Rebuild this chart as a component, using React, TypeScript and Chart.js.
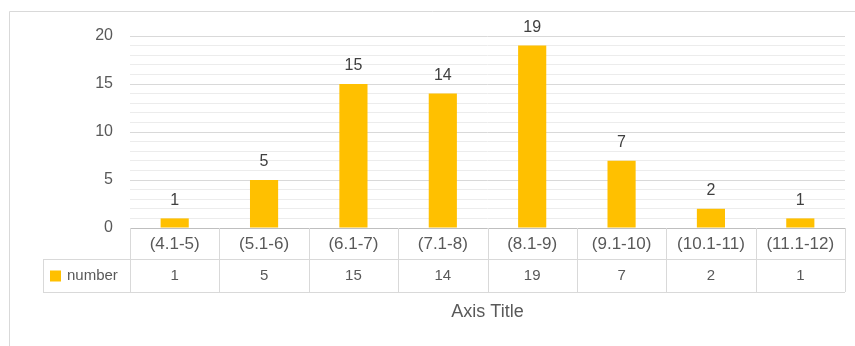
import React, { useEffect, useRef } from "react";
import { Chart, registerables } from "chart.js";

Chart.register(...registerables);

const categories = ["(4.1-5)", "(5.1-6)", "(6.1-7)", "(7.1-8)", "(8.1-9)", "(9.1-10)", "(10.1-11)", "(11.1-12)"];
const counts = [1, 5, 15, 14, 19, 7, 2, 1];
const seriesName = "number";
const axisTitle = "Axis Title";
const yMin = 0;
const yMax = 20;
const yLabelStep = 5;
const yMinorStep = 1;

const FONT = "'Liberation Sans', Arial, sans-serif";
const BAR = "#FFC000";
const TEXT = "#595959";
const LINE = "#d9d9d9";

const dataLabels = {
  id: "dataLabels",
  afterDatasetsDraw(chart: any) {
    const ctx = chart.ctx;
    const meta = chart.getDatasetMeta(0);
    ctx.save();
    ctx.font = `16px ${FONT}`;
    ctx.fillStyle = "#404040";
    ctx.textAlign = "center";
    ctx.textBaseline = "middle";
    meta.data.forEach((bar: any, i: number) => {
      ctx.fillText(String(counts[i]), bar.x, bar.y - 18);
    });
    ctx.restore();
  },
};

const dataTable = {
  id: "dataTable",
  afterDraw(chart: any) {
    const ctx = chart.ctx;
    const x = chart.scales.x;
    const area = chart.chartArea;
    const n = categories.length;
    const left = area.left;
    const right = area.right;
    const top = area.bottom;
    const mid = top + 31;
    const bot = top + 64;
    const legendLeft = 43;
    ctx.save();
    // outer frame
    ctx.strokeStyle = "#d9d9d9";
    ctx.lineWidth = 1;
    ctx.beginPath();
    ctx.moveTo(9.5, 400);
    ctx.lineTo(9.5, 11.5);
    ctx.lineTo(900, 11.5);
    ctx.stroke();

    ctx.strokeStyle = LINE;
    ctx.beginPath();
    ctx.moveTo(legendLeft, Math.round(mid) + 0.5);
    ctx.lineTo(right, Math.round(mid) + 0.5);
    ctx.moveTo(legendLeft, Math.round(bot) + 0.5);
    ctx.lineTo(right, Math.round(bot) + 0.5);
    ctx.moveTo(legendLeft + 0.5, Math.round(mid));
    ctx.lineTo(legendLeft + 0.5, Math.round(bot));
    const half = (x.getPixelForValue(1) - x.getPixelForValue(0)) / 2;
    for (let i = 0; i <= n; i++) {
      const px = i < n ? x.getPixelForValue(i) - half : right;
      const xx = Math.round(px) + 0.5;
      ctx.moveTo(xx, top);
      ctx.lineTo(xx, Math.round(bot));
    }
    ctx.stroke();

    ctx.fillStyle = TEXT;
    ctx.font = `15px ${FONT}`;
    ctx.textAlign = "center";
    ctx.textBaseline = "middle";
    const rowY = (mid + bot) / 2;
    counts.forEach((v, i) => {
      ctx.fillText(String(v), x.getPixelForValue(i), rowY);
    });

    ctx.fillStyle = BAR;
    ctx.fillRect(50, rowY - 5, 11, 11);
    ctx.fillStyle = TEXT;
    ctx.textAlign = "left";
    ctx.font = `15px ${FONT}`;
    ctx.fillText(seriesName, 67, rowY);

    ctx.textAlign = "center";
    ctx.font = `18px ${FONT}`;
    ctx.fillText(axisTitle, (left + right) / 2, 312);
    ctx.restore();
  },
};

export default function App() {
  const ref = useRef<HTMLCanvasElement>(null);
  useEffect(() => {
    const chart = new Chart(ref.current as HTMLCanvasElement, {
      type: "bar",
      data: {
        labels: categories,
        datasets: [
          {
            label: seriesName,
            data: counts,
            backgroundColor: BAR,
            borderWidth: 0,
            barPercentage: 0.315,
            categoryPercentage: 1,
          },
        ],
      },
      options: {
        animation: false,
        responsive: false,
        maintainAspectRatio: false,
        layout: { padding: { top: 36, right: 10, left: 0, bottom: 0 } },
        plugins: { legend: { display: false }, tooltip: { enabled: false }, title: { display: false } },
        scales: {
          x: {
            grid: { display: false, drawTicks: false },
            border: { display: false },
            ticks: {
              autoSkip: false,
              maxRotation: 0,
              minRotation: 0,
              padding: 6,
              color: TEXT,
              font: { size: 17, family: FONT },
            },
            afterFit: (s: any) => {
              s.height = 118;
            },
          },
          y: {
            min: yMin,
            max: yMax,
            border: { display: false },
            grid: {
              drawTicks: false,
              color: (c: any) =>
                c.tick.value === 0 ? "#bfbfbf" : c.tick.value % yLabelStep === 0 ? "#d9d9d9" : "#ececec",
            },
            ticks: {
              stepSize: yMinorStep,
              autoSkip: false,
              padding: 17,
              color: TEXT,
              font: { size: 16, family: FONT },
              callback: (v: any) => (Number(v) % yLabelStep === 0 ? String(v) : ""),
            },
            afterFit: (s: any) => {
              s.width = 130;
            },
          },
        },
      },
      plugins: [dataLabels, dataTable],
    });
    return () => chart.destroy();
  }, []);
  return (
    <div style={{ position: "absolute", left: 0, top: 0, width: 855, height: 346, background: "#fff" }}>
      <canvas ref={ref} width={855} height={346} />
    </div>
  );
}
